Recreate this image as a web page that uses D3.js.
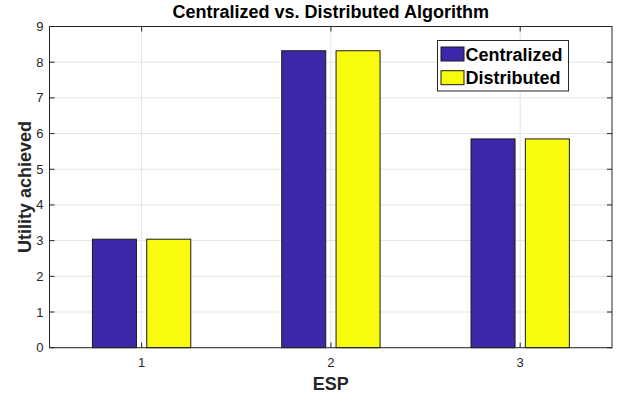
<!DOCTYPE html>
<html>
<head>
<meta charset="utf-8">
<script src="https://cdn.jsdelivr.net/npm/d3@7"></script>
<style>
  body { margin: 0; background: #fff; }
  text { font-family: "Liberation Sans", Arial, sans-serif; }
</style>
</head>
<body>
<svg id="chart"></svg>
<script>
const esp = [1, 2, 3]
const centralized = [3.04, 8.32, 5.85]
const distributed = [3.04, 8.32, 5.85]
const seriesNames = ["Centralized", "Distributed"]
const yTicks = [0, 1, 2, 3, 4, 5, 6, 7, 8, 9]

const W = 628, H = 401
const plotL = 49.5, plotR = 612, plotT = 26.5, plotB = 347.7
const axisColor = "#262626"

let svg = d3.select("#chart")
    .attr("width", W)
    .attr("height", H)

// x positions come from the ESP index; y from utility
let xScale = d3.scaleLinear()
    .domain([1, 3])
    .range([141.6, 520.2])

let yScale = d3.scaleLinear()
    .domain([0, 9])
    .range([plotB, plotT])

const colorScale = d3.scaleOrdinal()
    .domain(seriesNames)
    .range(["#3e26a8", "#f9fb0e"])

// grid
svg.append("g")
    .selectAll("line")
    .data(yTicks)
    .enter().append("line")
    .attr("x1", plotL).attr("x2", plotR)
    .attr("y1", d => yScale(d)).attr("y2", d => yScale(d))
    .attr("stroke", "#e3e3e3")

svg.append("g")
    .selectAll("line")
    .data(esp)
    .enter().append("line")
    .attr("x1", d => xScale(d)).attr("x2", d => xScale(d))
    .attr("y1", plotT).attr("y2", plotB)
    .attr("stroke", "#e3e3e3")

// bars
const barW = 0.2325, offset = 0.1435
const rows = esp.map((e, i) => ({ esp: e, Centralized: centralized[i], Distributed: distributed[i] }))

svg.append("g")
    .selectAll("g")
    .data(seriesNames)
    .enter().append("g")
    .attr("fill", d => colorScale(d))
    .each(function (name, si) {
        d3.select(this).selectAll("rect")
            .data(rows)
            .enter().append("rect")
            .attr("x", d => xScale(d.esp + (si === 0 ? -offset : offset) - barW / 2))
            .attr("width", xScale(1 + barW) - xScale(1))
            .attr("y", d => yScale(d[name]))
            .attr("height", d => yScale(0) - yScale(d[name]))
            .attr("stroke", "#1a1a1a")
            .attr("stroke-width", 1)
    })

// box + ticks
svg.append("rect")
    .attr("x", plotL).attr("y", plotT)
    .attr("width", plotR - plotL).attr("height", plotB - plotT)
    .attr("fill", "none")
    .attr("stroke", axisColor)
    .attr("stroke-width", 1)

const tickLen = 5
let ticks = svg.append("g").attr("stroke", axisColor)
yTicks.forEach(t => {
    ticks.append("line").attr("x1", plotL).attr("x2", plotL + tickLen).attr("y1", yScale(t)).attr("y2", yScale(t))
    ticks.append("line").attr("x1", plotR).attr("x2", plotR - tickLen).attr("y1", yScale(t)).attr("y2", yScale(t))
})
esp.forEach(t => {
    ticks.append("line").attr("x1", xScale(t)).attr("x2", xScale(t)).attr("y1", plotB).attr("y2", plotB - tickLen)
    ticks.append("line").attr("x1", xScale(t)).attr("x2", xScale(t)).attr("y1", plotT).attr("y2", plotT + tickLen)
})

// tick labels
svg.append("g")
    .selectAll("text")
    .data(yTicks)
    .enter().append("text")
    .attr("x", plotL - 6)
    .attr("y", d => yScale(d) + 4.5)
    .attr("text-anchor", "end")
    .attr("font-size", 13)
    .attr("fill", axisColor)
    .text(d => d)

svg.append("g")
    .selectAll("text")
    .data(esp)
    .enter().append("text")
    .attr("x", d => xScale(d))
    .attr("y", 366.5)
    .attr("text-anchor", "middle")
    .attr("font-size", 13)
    .attr("fill", axisColor)
    .text(d => d)

// titles
svg.append("text")
    .attr("x", (plotL + plotR) / 2)
    .attr("y", 18)
    .attr("text-anchor", "middle")
    .attr("font-size", 18)
    .attr("font-weight", "bold")
    .text("Centralized vs. Distributed Algorithm")

svg.append("text")
    .attr("x", (plotL + plotR) / 2)
    .attr("y", 390)
    .attr("text-anchor", "middle")
    .attr("font-size", 18)
    .attr("font-weight", "bold")
    .attr("fill", axisColor)
    .text("ESP")

svg.append("text")
    .attr("transform", "translate(31," + ((plotT + plotB) / 2) + ") rotate(-90)")
    .attr("text-anchor", "middle")
    .attr("font-size", 18)
    .attr("font-weight", "bold")
    .attr("fill", axisColor)
    .text("Utility achieved")

// legend
const legend = svg.append("g")
    .attr("transform", "translate(437.5, 40.5)")

legend.append("rect")
    .attr("width", 131)
    .attr("height", 50.5)
    .attr("fill", "#fff")
    .attr("stroke", axisColor)

legend.selectAll(".sw")
    .data(seriesNames)
    .enter().append("rect")
    .attr("x", 3.5)
    .attr("y", (d, i) => 6.5 + i * 23.7)
    .attr("width", 23)
    .attr("height", 14)
    .attr("fill", d => colorScale(d))
    .attr("stroke", "#1a1a1a")

legend.selectAll(".lab")
    .data(seriesNames)
    .enter().append("text")
    .attr("x", 28)
    .attr("y", (d, i) => 20 + i * 23.7)
    .attr("font-size", 18)
    .attr("font-weight", "bold")
    .attr("fill", "#000")
    .text(d => d)
</script>
</body>
</html>
